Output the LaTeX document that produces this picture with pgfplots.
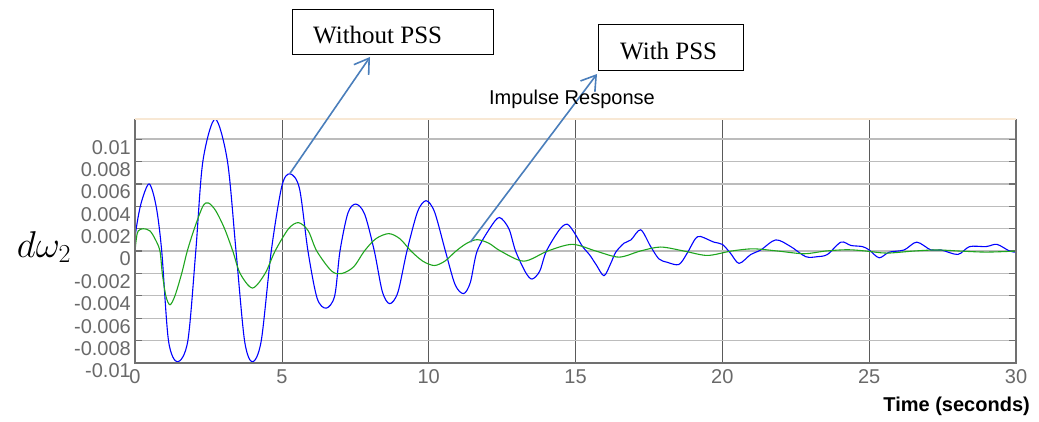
\documentclass[border=0pt]{standalone}
\usepackage{fontspec}
\setmainfont{Liberation Sans}
\newfontfamily\serifbox{Liberation Serif}
\usepackage{pgfplots}
\pgfplotsset{compat=1.18}
\usetikzlibrary{arrows.meta}
\definecolor{tickgray}{RGB}{105,105,105}
\definecolor{spinegray}{RGB}{112,112,112}
\definecolor{gridgray}{RGB}{188,188,188}
\definecolor{vgrid}{RGB}{90,90,90}
\definecolor{topbeige}{RGB}{248,232,212}
\definecolor{arrowblue}{RGB}{74,126,187}
\definecolor{pssgreen}{RGB}{30,165,30}
\begin{document}
\begin{tikzpicture}
\useasboundingbox (0,0) rectangle (1039pt,421pt);
\begin{axis}[
  at={(135pt,58pt)}, anchor=south west,
  scale only axis, width=881pt, height=244pt,
  xmin=0, xmax=30, ymin=-0.01, ymax=0.0118,
  xtick={0,5,...,30},
  ytick={-0.01,-0.008,-0.006,-0.004,-0.002,0,0.002,0.004,0.006,0.008,0.01},
  yticklabels={-0.01,-0.008,-0.006,-0.004,-0.002,0,0.002,0.004,0.006,0.008,0.01},
  scaled y ticks=false,
  /pgf/number format/assume math mode=true,
  ticklabel style={font=\fontsize{20}{20}\selectfont, text=tickgray},
  xticklabel style={yshift=-3pt},
  yticklabel style={yshift=-8pt, inner sep=4pt},
  axis line style={draw=none},
  xtick style={draw=none},
  ytick style={draw=spinegray, line width=1.2pt},
  tick align=inside, ytick pos=both, major tick length=7pt,
  xmajorgrids, ymajorgrids,
  major x grid style={draw=vgrid, line width=0.6pt},
  major y grid style={draw=gridgray, line width=1.3pt},
  clip=false,
]
\addplot[blue, line width=1.1pt, smooth, tension=0.5] coordinates {
(0,0) (0.02,0.0016) (0.2,0.0042) (0.48,0.0060) (0.72,0.0040) (0.91,0)
(1.14,-0.0080) (1.45,-0.0099) (1.80,-0.0080) (2.07,0) (2.31,0.0080)
(2.73,0.0118) (3.15,0.0080) (3.44,0) (3.73,-0.0080) (4.0,-0.0099)
(4.30,-0.0080) (4.64,0) (5.0,0.0058) (5.28,0.0069) (5.6,0.0056) (5.89,0)
(6.2,-0.0042) (6.51,-0.0051) (6.8,-0.0040) (6.98,0) (7.25,0.0034) (7.52,0.0042)
(7.82,0.0033) (8.15,0) (8.42,-0.0036) (8.67,-0.0047) (8.95,-0.0037) (9.26,0)
(9.62,0.0035) (9.91,0.0045) (10.2,0.0035) (10.57,0) (10.9,-0.0030) (11.19,-0.0038)
(11.42,-0.0028) (11.65,0) (12.1,0.0021) (12.41,0.0030) (12.73,0.0020) (12.96,0)
(13.3,-0.0019) (13.52,-0.0025) (13.78,-0.0018) (14.01,0) (14.45,0.0019) (14.72,0.0024)
(14.97,0.0016) (15.24,0.0004) (15.47,-0.0003) (15.7,-0.0012) (15.97,-0.0022)
(16.2,-0.0011) (16.37,-0.0001) (16.65,0.0007) (16.89,0.0010) (17.22,0.0019)
(17.56,0.0004) (17.84,-0.0007) (18.12,-0.0010) (18.52,-0.0012) (18.8,-0.0002)
(19.08,0.0011) (19.26,0.0013) (19.71,0.0008) (20.0,0.0006) (20.28,-0.0002)
(20.57,-0.0011) (20.97,-0.0003) (21.31,0.0001) (21.82,0.0010) (22.33,0.0004)
(22.84,-0.0005) (23.24,-0.0005) (23.58,-0.0003) (24.04,0.0008) (24.38,0.0005)
(24.77,0.0004) (25.0,0.0001) (25.34,-0.0006) (25.68,-0.0001) (26.19,0.0001)
(26.62,0.0008) (27.1,0.0001) (27.45,0.0001) (28.02,-0.0003) (28.42,0.0004)
(28.98,0.0004) (29.35,0.0006) (29.78,0.0000) (30,-0.0001)
};
\addplot[pssgreen, line width=1.1pt, smooth, tension=0.5] coordinates {
(0,0) (0.05,0.0012) (0.11,0.0018) (0.28,0.0020) (0.51,0.0018) (0.7,0.0010) (0.85,0)
(0.93,-0.0020) (1.05,-0.0040) (1.19,-0.0048) (1.36,-0.0040) (1.59,-0.0020) (1.78,0)
(2.02,0.0020) (2.31,0.0040) (2.5,0.0043) (2.75,0.0036) (3.05,0.0020) (3.33,0)
(3.58,-0.0020) (4.0,-0.0033) (4.43,-0.0020) (4.77,0) (5.23,0.0020) (5.57,0.00254)
(5.9,0.0018) (6.19,0) (6.7,-0.0018) (7.05,-0.0020) (7.45,-0.0014) (7.81,0)
(8.2,0.0011) (8.64,0.00156) (9.02,0.0011) (9.4,0)
(9.8,-0.0009) (10.19,-0.00129) (10.55,-0.0009) (10.93,0) (11.3,0.0007) (11.65,0.00102)
(12.05,0.0007) (12.45,0) (13.24,-0.0009) (14.05,0) (14.89,0.0006) (15.7,0)
(16.48,-0.00054) (17.2,0) (17.9,0.00036) (18.7,0) (19.49,-0.00039) (20.3,0)
(21.05,0.0002) (21.9,0) (22.79,-0.00024) (23.5,0) (24.27,0.00012) (24.9,0)
(25.6,-0.00018) (26.5,0) (27.3,0.0001) (28.1,0) (29.0,-0.00009) (30,0)
};
\coordinate (a1) at (axis cs:5.28,0.00695);
\coordinate (a2) at (axis cs:11.42,0.0008);
\draw[spinegray, line width=1.6pt] (rel axis cs:0,1) -- (rel axis cs:0,0) -- (rel axis cs:1,0) -- (rel axis cs:1,1);
\draw[topbeige, line width=1.2pt] (rel axis cs:0,1) -- (rel axis cs:1,1);
\end{axis}
\draw[arrowblue, line width=1.6pt, -{Straight Barb[length=14pt,width=18pt]}] (a1) -- (370pt,364pt);
\draw[arrowblue, line width=1.6pt, -{Straight Barb[length=14pt,width=18pt]}] (a2) -- (597pt,347pt);
\draw[line width=0.8pt] (292pt,367pt) rectangle (493pt,412pt);
\node[anchor=base west, inner sep=0pt, font=\serifbox\fontsize{25}{25}\selectfont] at (313pt,377pt) {Without PSS};
\draw[line width=0.8pt] (598pt,351pt) rectangle (743pt,397pt);
\node[anchor=base west, inner sep=0pt, font=\serifbox\fontsize{25}{25}\selectfont] at (620pt,361pt) {With PSS};
\node[font=\fontsize{20}{20}\selectfont] at (572pt,322pt) {Impulse Response};
\node[anchor=east, inner sep=0pt, font=\bfseries\fontsize{20}{20}\selectfont] at (1030pt,15pt) {Time (seconds)};
\node[font=\fontsize{24}{24}\selectfont, scale=1.5, transform shape] at (44pt,174pt) {$d\omega_{2}$};
\end{tikzpicture}
\end{document}
